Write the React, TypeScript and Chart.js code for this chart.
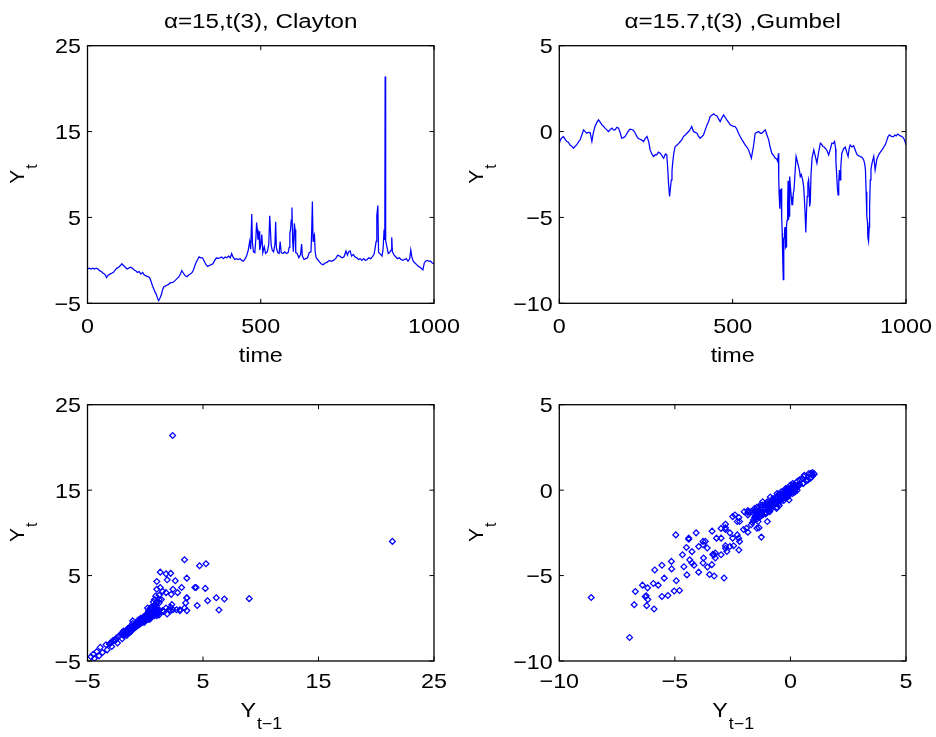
import React, { useEffect, useRef } from 'react';
import { Chart, registerables } from 'chart.js';

Chart.register(...registerables);

const W = 936;
const H = 737;
const FONT = '"Liberation Sans", Arial, Helvetica, sans-serif';
const BLUE = '#0000ff';

// ---- data (time, value) ----
const claytonSeries: [number, number][] = [
  [0, -1.0], [5, -0.9], [10, -1.0], [15, -0.9], [20, -1.0], [25, -0.9], [30, -1.0], [35, -1.2], [40, -1.3],
  [45, -1.5], [50, -1.6], [55, -2.0], [60, -1.7], [65, -1.6], [70, -1.5], [75, -1.4], [80, -1.1], [85, -0.9],
  [90, -0.8], [95, -0.6], [99, -0.4], [104, -0.6], [109, -0.8], [114, -1.0], [119, -0.9], [124, -0.8],
  [129, -0.9], [134, -1.1], [139, -1.2], [144, -1.4], [149, -1.3], [154, -1.6], [159, -1.4], [164, -1.7],
  [169, -1.8], [174, -1.9], [179, -2.0], [183, -2.4], [187, -2.9], [191, -3.3], [195, -3.7], [199, -4.0],
  [202, -4.4], [205, -4.7], [208, -4.5], [211, -4.2], [214, -3.9], [217, -3.4], [220, -3.1], [224, -3.0],
  [229, -2.9], [234, -2.8], [239, -2.6], [244, -2.6], [249, -2.5], [254, -2.3], [259, -2.1], [264, -1.9],
  [269, -1.5], [272, -1.2], [277, -1.5], [282, -1.8], [287, -1.9], [292, -1.7], [297, -1.6], [302, -1.4],
  [306, -1.1], [310, -0.6], [314, -0.2], [318, 0.1], [322, 0.4], [327, 0.3], [332, 0.3], [337, -0.1],
  [342, -0.5], [347, -0.7], [352, -0.6], [357, -0.5], [362, -0.4], [367, 0.0], [372, 0.3], [377, 0.2],
  [382, 0.3], [387, 0.4], [392, 0.2], [397, 0.4], [402, 0.3], [407, 0.5], [412, 0.3], [416, 0.8], [420, 0.4],
  [425, 0.1], [430, 0.2], [435, 0.1], [440, 0.2], [445, 0.0], [450, -0.1], [455, 0.2], [459, 0.5], [464, 1.2],
  [468, 2.2], [471, 1.3], [474, 5.4], [476, 2.05], [479, 1.0], [483, 0.9], [486, 2.6], [488, 4.4], [490, 3.6],
  [492, 2.4], [495, 3.4], [497, 1.2], [500, 1.8], [503, 3.0], [506, 0.9], [510, 1.6], [514, 0.8], [519, 1.0],
  [523, 1.8], [526, 5.2], [528, 3.5], [530, 1.8], [533, 1.2], [537, 1.0], [541, 1.9], [543, 4.5], [545, 1.5],
  [549, 0.9], [553, 0.8], [556, 2.2], [559, 0.9], [564, 0.8], [569, 1.0], [574, 0.8], [579, 0.9], [582, 1.5],
  [584, 3.15], [586, 3.6], [588, 4.7], [590, 6.15], [592, 2.4], [594, 1.0], [597, 4.3], [599, 3.6], [601, 0.9],
  [605, 0.8], [610, 0.3], [615, 0.7], [618, 1.9], [620, 0.5], [625, 0.1], [630, 0.2], [635, 0.3], [640, 0.9],
  [645, 1.0], [647, 3.4], [649, 6.85], [651, 2.25], [653, 2.8], [655, 3.0], [657, 1.0], [660, 0.3], [664, 0.1],
  [668, -0.1], [674, -0.4], [680, -0.5], [686, -0.3], [692, -0.2], [698, 0.0], [704, -0.1], [710, 0.0],
  [716, 0.2], [722, 0.6], [728, 0.5], [734, 0.3], [740, 0.4], [746, 1.1], [750, 0.6], [754, 1.0], [758, 1.1],
  [762, 0.5], [767, 0.7], [772, 0.4], [777, 0.3], [782, 0.1], [787, 0.2], [792, 0.0], [797, 0.2], [802, 0.0],
  [807, 0.1], [812, 0.3], [817, 0.2], [822, 0.4], [827, 0.7], [830, 1.4], [833, 2.2], [835, 5.26], [838, 6.38],
  [840, 0.97], [843, 0.8], [846, 0.7], [850, 0.5], [853, 1.3], [856, 3.6], [858, 2.37], [859, 21.4], [860, 9.0],
  [861, 2.3], [864, 1.6], [868, 0.8], [872, 0.9], [876, 1.2], [878, 2.7], [880, 1.0], [885, 0.6], [890, 0.4],
  [895, 0.2], [900, 0.3], [905, 0.1], [910, 0.0], [915, 0.1], [920, 0.2], [925, -0.1], [930, 0.2], [933, 1.2],
  [936, 0.4], [940, -0.1], [945, -0.3], [950, -0.5], [955, -0.7], [960, -0.8], [965, -1.0], [968, -1.1],
  [972, -0.3], [976, -0.1], [980, 0.0], [985, -0.1], [990, -0.1], [995, -0.3], [1000, -0.4],
];

const gumbelSeries: [number, number][] = [
  [0, -0.68], [4, -0.45], [8, -0.35], [12, -0.29], [17, -0.45], [22, -0.58], [26, -0.62], [31, -0.78],
  [36, -0.85], [41, -0.97], [46, -0.85], [50, -0.78], [55, -0.62], [60, -0.48], [65, -0.2], [70, 0.1],
  [75, 0.0], [79, -0.1], [84, -0.05], [89, -0.06], [94, -0.58], [97, -0.2], [99, 0.0], [103, 0.3], [108, 0.52],
  [113, 0.68], [118, 0.55], [123, 0.39], [128, 0.3], [132, 0.2], [137, 0.1], [142, 0.0], [147, 0.12], [152, 0.2],
  [156, 0.1], [161, 0.1], [166, 0.25], [171, 0.2], [176, -0.1], [180, -0.39], [185, -0.35], [190, -0.29],
  [195, -0.1], [200, 0.05], [204, 0.14], [209, 0.12], [214, 0.06], [219, -0.1], [224, -0.29], [228, -0.4],
  [233, -0.45], [238, -0.5], [243, -0.58], [248, -0.4], [253, -0.29], [258, -0.6], [262, -1.07], [267, -1.3],
  [272, -1.45], [277, -1.35], [281, -1.36], [286, -1.2], [291, -1.26], [296, -1.4], [301, -1.55], [306, -1.3],
  [310, -1.36], [313, -2.2], [315, -3.0], [318, -3.78], [321, -3.2], [323, -2.81], [325, -2.3], [327, -1.84],
  [330, -1.3], [334, -0.87], [339, -0.8], [344, -0.7], [349, -0.58], [354, -0.45], [358, -0.29], [363, -0.2],
  [368, -0.1], [373, 0.0], [378, 0.15], [382, 0.29], [387, 0.0], [392, -0.05], [397, -0.1], [401, -0.25],
  [406, -0.39], [411, -0.3], [416, -0.19], [421, 0.1], [426, 0.39], [431, 0.6], [435, 0.87], [440, 0.95],
  [445, 1.03], [450, 0.95], [455, 0.91], [459, 0.75], [464, 0.58], [469, 0.8], [474, 0.97], [478, 0.85],
  [483, 0.68], [488, 0.55], [493, 0.39], [498, 0.35], [502, 0.3], [507, 0.29], [512, 0.15], [517, -0.1],
  [522, -0.3], [527, -0.48], [531, -0.6], [536, -0.78], [541, -0.9], [546, -1.07], [550, -1.3], [554, -1.55],
  [557, -1.2], [560, -0.87], [563, -0.4], [565, -0.1], [570, -0.05], [575, 0.0], [580, -0.1], [584, -0.1],
  [589, 0.0], [594, 0.1], [599, -0.2], [604, -0.48], [608, -0.9], [613, -1.26], [618, -1.4], [623, -1.55],
  [627, -1.6], [630, -1.74], [632, -1.26], [633, -2.75], [634, -3.59], [636, -4.5], [637, -3.36], [638, -3.76],
  [640, -3.97], [641, -3.3], [642, -5.03], [643, -5.9], [644, -6.96], [646, -8.62], [647, -6.28], [648, -6.24],
  [649, -6.18], [650, -5.72], [651, -5.56], [652, -6.22], [653, -6.76], [654, -6.71], [655, -5.93], [656, -5.46],
  [657, -5.15], [658, -4.17], [659, -4.4], [660, -2.87], [661, -5.14], [662, -4.61], [663, -4.48], [664, -4.96],
  [665, -2.62], [667, -3.3], [669, -3.78], [671, -4.26], [673, -4.26], [675, -3.6], [677, -3.39], [680, -2.4],
  [683, -1.45], [686, -1.7], [690, -2.03], [693, -2.3], [695, -2.62], [698, -2.5], [702, -2.81], [705, -3.25],
  [707, -3.97], [709, -4.8], [711, -5.87], [713, -4.67], [715, -3.78], [717, -3.0], [719, -2.81], [721, -3.4],
  [722, -4.36], [724, -4.08], [726, -2.5], [729, -1.55], [734, -1.07], [738, -1.4], [743, -1.84], [748, -1.2],
  [753, -0.68], [757, -0.75], [760, -0.87], [764, -0.9], [767, -0.97], [772, -1.1], [777, -1.36], [782, -1.0],
  [786, -0.68], [790, -0.7], [794, -0.58], [797, -1.0], [798, -1.84], [800, -2.46], [802, -3.25], [804, -3.68],
  [806, -3.0], [808, -2.24], [810, -2.81], [812, -2.0], [815, -1.26], [820, -1.0], [825, -0.91], [829, -1.2],
  [833, -1.45], [836, -1.0], [839, -0.78], [844, -0.9], [849, -0.83], [854, -1.1], [859, -1.36], [863, -1.4],
  [868, -1.45], [873, -1.5], [878, -1.65], [881, -1.9], [883, -2.23], [885, -3.5], [887, -4.94], [889, -5.3],
  [890, -6.17], [892, -6.4], [894, -5.56], [895, -4.4], [897, -2.81], [899, -2.2], [902, -1.84], [907, -1.45],
  [911, -2.23], [916, -1.6], [921, -1.36], [926, -1.2], [931, -1.07], [936, -0.9], [940, -0.78], [945, -0.5],
  [948, -0.3], [952, -0.19], [956, -0.25], [960, -0.3], [964, -0.29], [968, -0.2], [972, -0.25], [976, -0.15],
  [979, -0.19], [984, -0.25], [988, -0.29], [992, -0.35], [996, -0.5], [1000, -0.78],
];

// ---- tick labels ----
const timeTicks = [0, 500, 1000];
const claytonTicks = [-5, 5, 15, 25];
const gumbelTicks = [-10, -5, 0, 5];
const titles = ['\u03b1=15,t(3), Clayton', '\u03b1=15.7,t(3) ,Gumbel'];

type Box = { left: number; top: number; right: number; bottom: number };

interface PanelSpec {
  box: Box;
  title?: string;
  xTicks: number[];
  yTicks: number[];
  xLabel: 'time' | 'lag';
  yLabelX: number;
  kind: 'line' | 'lag';
  series: [number, number][];
}

const panels: PanelSpec[] = [
  { box: { left: 87.5, top: 45.7, right: 434, bottom: 303.3 }, title: titles[0], xTicks: timeTicks, yTicks: claytonTicks, xLabel: 'time', yLabelX: 24, kind: 'line', series: claytonSeries },
  { box: { left: 559.3, top: 45.7, right: 906, bottom: 303.3 }, title: titles[1], xTicks: timeTicks, yTicks: gumbelTicks, xLabel: 'time', yLabelX: 482.5, kind: 'line', series: gumbelSeries },
  { box: { left: 87.5, top: 404.7, right: 434, bottom: 661 }, xTicks: claytonTicks, yTicks: claytonTicks, xLabel: 'lag', yLabelX: 24, kind: 'lag', series: claytonSeries },
  { box: { left: 559.3, top: 404.7, right: 906, bottom: 661 }, xTicks: gumbelTicks, yTicks: gumbelTicks, xLabel: 'lag', yLabelX: 482.5, kind: 'lag', series: gumbelSeries },
];

const fmt = (v: number) => (v < 0 ? '\u2212' + Math.abs(v) : String(v));

function txt(ctx: CanvasRenderingContext2D, s: string, x: number, y: number, size: number, align: CanvasTextAlign, sx = 1) {
  ctx.save();
  ctx.translate(x, y);
  ctx.scale(sx, 1);
  ctx.font = `${size}px ${FONT}`;
  ctx.textAlign = align;
  ctx.textBaseline = 'alphabetic';
  ctx.fillStyle = '#000';
  ctx.fillText(s, 0, 0);
  ctx.restore();
}

function subLabel(ctx: CanvasRenderingContext2D, main: string, sub: string, cx: number, base: number, size: number, subSize: number, drop: number, sx: number) {
  ctx.save();
  ctx.font = `${size}px ${FONT}`;
  const w1 = ctx.measureText(main).width * sx;
  ctx.font = `${subSize}px ${FONT}`;
  const w2 = ctx.measureText(sub).width * sx;
  ctx.restore();
  const start = cx - (w1 + w2) / 2;
  txt(ctx, main, start, base, size, 'left', sx);
  txt(ctx, sub, start + w1 + 1, base + drop, subSize, 'left', sx);
}

function decorPlugin(spec: PanelSpec) {
  return {
    id: 'decor',
    afterDraw(chart: any) {
      const ctx: CanvasRenderingContext2D = chart.ctx;
      const { left, top, right, bottom } = chart.chartArea;
      const xs = chart.scales.x;
      const ys = chart.scales.y;
      const cx = (left + right) / 2;
      const cy = (top + bottom) / 2;
      const TL = 4.5;
      ctx.save();
      ctx.strokeStyle = '#000';
      ctx.lineWidth = 1.3;
      ctx.strokeRect(left, top, right - left, bottom - top);
      ctx.lineWidth = 1;
      ctx.beginPath();
      for (const v of spec.xTicks) {
        const px = xs.getPixelForValue(v);
        ctx.moveTo(px, bottom);
        ctx.lineTo(px, bottom - TL);
        ctx.moveTo(px, top);
        ctx.lineTo(px, top + TL);
      }
      for (const v of spec.yTicks) {
        const py = ys.getPixelForValue(v);
        ctx.moveTo(left, py);
        ctx.lineTo(left + TL, py);
        ctx.moveTo(right, py);
        ctx.lineTo(right - TL, py);
      }
      ctx.stroke();
      ctx.restore();

      const xLabelOff = spec.kind === 'line' ? 30 : 27;
      for (const v of spec.xTicks) txt(ctx, fmt(v), xs.getPixelForValue(v), bottom + xLabelOff, 21, 'center', 1.11);
      for (const v of spec.yTicks) txt(ctx, fmt(v), left - 6.5, ys.getPixelForValue(v) + 7.5, 21, 'right', 1.11);

      if (spec.title) txt(ctx, spec.title, cx, 27.5, 20, 'center', 1.21);

      if (spec.xLabel === 'time') {
        txt(ctx, 'time', cx, bottom + 58.7, 21, 'center', 1.11);
      } else {
        subLabel(ctx, 'Y', 't\u22121', cx, bottom + 56, 21, 16, 12, 1.11);
      }

      ctx.save();
      ctx.translate(spec.yLabelX, cy);
      ctx.rotate(-Math.PI / 2);
      subLabel(ctx, 'Y', 't', 0, 0, 21, 16, 13, 1);
      ctx.restore();
    },
  };
}

function Panel({ spec }: { spec: PanelSpec }) {
  const ref = useRef<HTMLCanvasElement>(null);
  useEffect(() => {
    const canvas = ref.current;
    if (!canvas) return;
    const s = spec.series;
    const data =
      spec.kind === 'line'
        ? s.map(([t, v]) => ({ x: t, y: v }))
        : s.slice(1).map(([, v], i) => ({ x: s[i][1], y: v }));
    const dataset: any =
      spec.kind === 'line'
        ? { data, showLine: true, borderColor: BLUE, borderWidth: 1.25, pointRadius: 0, tension: 0, fill: false }
        : { data, showLine: false, borderColor: BLUE, backgroundColor: 'rgba(0,0,0,0)', borderWidth: 1.25, pointStyle: 'rectRot', pointRadius: 2.9 };
    const xr = spec.xTicks;
    const yr = spec.yTicks;
    const chart = new Chart(canvas, {
      type: 'scatter',
      data: { datasets: [dataset] },
      options: {
        responsive: false,
        animation: false,
        devicePixelRatio: 1,
        events: [],
        layout: {
          padding: { left: spec.box.left, top: spec.box.top, right: W - spec.box.right, bottom: H - spec.box.bottom },
        },
        plugins: { legend: { display: false }, tooltip: { enabled: false }, title: { display: false } },
        scales: {
          x: { type: 'linear', display: false, min: xr[0], max: xr[xr.length - 1] },
          y: { type: 'linear', display: false, min: yr[0], max: yr[yr.length - 1] },
        },
      },
      plugins: [decorPlugin(spec)],
    } as any);
    return () => chart.destroy();
  }, [spec]);
  return <canvas ref={ref} width={W} height={H} style={{ position: 'absolute', left: 0, top: 0, width: W, height: H }} />;
}

export default function App() {
  return (
    <div style={{ position: 'fixed', left: 0, top: 0, width: W, height: H, background: '#fff', overflow: 'hidden' }}>
      {panels.map((p, i) => (
        <Panel key={i} spec={p} />
      ))}
    </div>
  );
}
